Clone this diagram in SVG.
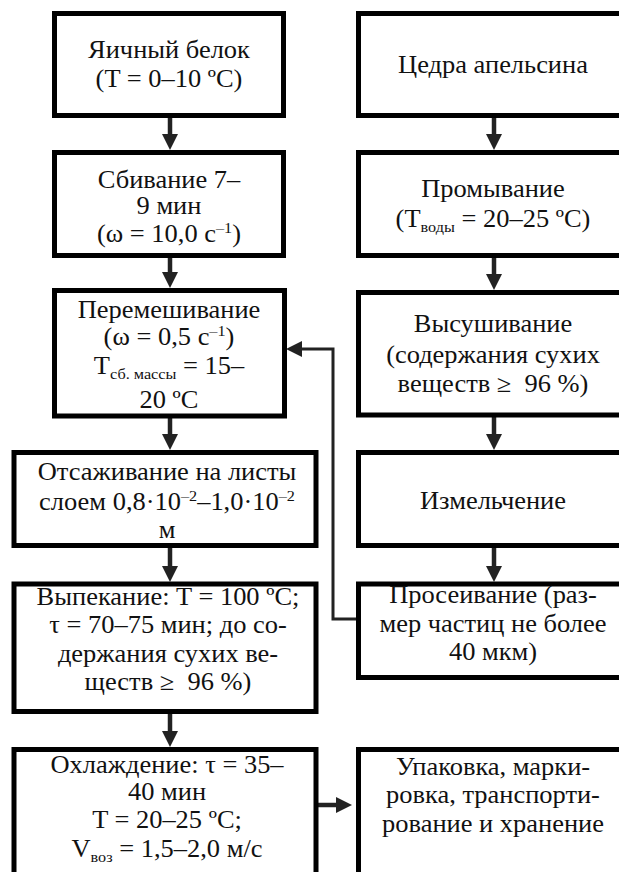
<svg xmlns="http://www.w3.org/2000/svg" width="619" height="872" viewBox="0 0 619 872">
<style>
.box{fill:#fff;stroke:#000;stroke-width:5}
.t{font-family:"Liberation Serif","Times New Roman",serif;font-size:24.5px;text-anchor:middle;fill:#111;white-space:pre}
.sub{font-size:15px}
.c{stroke:#222;stroke-width:4.5;fill:none}
.fb{stroke:#222;stroke-width:3;fill:none}
</style>
<defs>
<marker id="ah" markerUnits="userSpaceOnUse" markerWidth="16" markerHeight="16" refX="0" refY="8" orient="auto">
<path d="M0,0 L16,8 L0,16 z" fill="#222"/>
</marker>
</defs>
<rect width="619" height="872" fill="#fff"/>
<g id="connectors">
<path class="c" d="M170,118 V134" marker-end="url(#ah)"/>
<path class="c" d="M170,258 V272" marker-end="url(#ah)"/>
<path class="c" d="M170,418 V434" marker-end="url(#ah)"/>
<path class="c" d="M170,548 V566" marker-end="url(#ah)"/>
<path class="c" d="M170,714 V731" marker-end="url(#ah)"/>
<path class="c" d="M494,118 V134" marker-end="url(#ah)"/>
<path class="c" d="M494,258 V274" marker-end="url(#ah)"/>
<path class="c" d="M494,417 V434" marker-end="url(#ah)"/>
<path class="c" d="M494,548 V566" marker-end="url(#ah)"/>
<path class="fb" d="M357,619 H333 V349 H302" marker-end="url(#ah)"/>
<path class="c" d="M318,805 H336" marker-end="url(#ah)"/>
</g>
<g id="n1">
<rect class="box" x="54.5" y="13.5" width="229" height="102"/>
<g transform="translate(169,0) scale(1.08,1)">
<text class="t" x="0" y="58">Яичный белок</text>
<text class="t" x="0" y="87">(T = 0–10 ºC)</text>
</g>
</g>
<g id="n2">
<rect class="box" x="54.5" y="152.5" width="229" height="103"/>
<g transform="translate(169,0) scale(1.08,1)">
<text class="t" x="0" y="188">Сбивание 7–</text>
<text class="t" x="0" y="214">9 мин</text>
<text class="t" x="0" y="242">(ω = 10,0 с<tspan class="sub" dy="-9">–1</tspan><tspan dy="9">)</tspan></text>
</g>
</g>
<g id="n3">
<rect class="box" x="54.5" y="290.5" width="230" height="125.5"/>
<g transform="translate(169,0) scale(1.08,1)">
<text class="t" x="0" y="318">Перемешивание</text>
<text class="t" x="0" y="345">(ω = 0,5 с<tspan class="sub" dy="-9">–1</tspan><tspan dy="9">)</tspan></text>
<text class="t" x="0" y="374">T<tspan class="sub" dy="5">сб. массы</tspan><tspan dy="-5"> = 15–</tspan></text>
<text class="t" x="0" y="408">20 ºC</text>
</g>
</g>
<g id="n4">
<rect class="box" x="14" y="452.5" width="302" height="93"/>
<g transform="translate(167,0) scale(1.08,1)">
<text class="t" x="0" y="480">Отсаживание на листы</text>
<text class="t" x="0" y="510">слоем 0,8·10<tspan class="sub" dy="-9">–2</tspan><tspan dy="9">–1,0·10</tspan><tspan class="sub" dy="-9">–2</tspan></text>
<text class="t" x="0" y="538">м</text>
</g>
</g>
<g id="n5">
<rect class="box" x="14" y="584" width="302" height="127.5"/>
<g transform="translate(168,0) scale(1.08,1)">
<text class="t" x="0" y="605">Выпекание: T = 100 ºC;</text>
<text class="t" x="0" y="633">τ = 70–75 мин; до со-</text>
<text class="t" x="0" y="662">держания сухих ве-</text>
<text class="t" x="0" y="690">ществ ≥  96 %)</text>
</g>
</g>
<g id="n6">
<rect class="box" x="14" y="749.5" width="302" height="130"/>
<g transform="translate(167,0) scale(1.08,1)">
<text class="t" x="0" y="773">Охлаждение: τ = 35–</text>
<text class="t" x="0" y="800">40 мин</text>
<text class="t" x="0" y="828">T = 20–25 ºC;</text>
<text class="t" x="0" y="857">V<tspan class="sub" dy="5">воз</tspan><tspan dy="-5"> = 1,5–2,0 м/с</tspan></text>
</g>
</g>
<g id="r1">
<rect class="box" x="358.5" y="13.5" width="270" height="102"/>
<g transform="translate(493,0) scale(1.08,1)">
<text class="t" x="0" y="73">Цедра апельсина</text>
</g>
</g>
<g id="r2">
<rect class="box" x="358.5" y="152.5" width="270" height="103"/>
<g transform="translate(493,0) scale(1.08,1)">
<text class="t" x="0" y="197">Промывание</text>
<text class="t" x="0" y="227">(T<tspan class="sub" dy="5">воды</tspan><tspan dy="-5"> = 20–25 ºC)</tspan></text>
</g>
</g>
<g id="r3">
<rect class="box" x="358.5" y="292.5" width="270" height="122.5"/>
<g transform="translate(493,0) scale(1.08,1)">
<text class="t" x="0" y="332">Высушивание</text>
<text class="t" x="0" y="363">(содержания сухих</text>
<text class="t" x="0" y="392">веществ ≥  96 %)</text>
</g>
</g>
<g id="r4">
<rect class="box" x="358.5" y="452.5" width="270" height="93"/>
<g transform="translate(493,0) scale(1.08,1)">
<text class="t" x="0" y="509">Измельчение</text>
</g>
</g>
<g id="r5">
<rect class="box" x="358.5" y="584" width="270" height="93.5"/>
<g transform="translate(493,0) scale(1.08,1)">
<text class="t" x="0" y="603">Просеивание (раз-</text>
<text class="t" x="0" y="632">мер частиц не более</text>
<text class="t" x="0" y="660">40 мкм)</text>
</g>
</g>
<g id="r6">
<rect class="box" x="358.5" y="749.5" width="270" height="130"/>
<g transform="translate(493,0) scale(1.08,1)">
<text class="t" x="0" y="775">Упаковка, марки-</text>
<text class="t" x="0" y="803">ровка, транспорти-</text>
<text class="t" x="0" y="832">рование и хранение</text>
</g>
</g>
</svg>
